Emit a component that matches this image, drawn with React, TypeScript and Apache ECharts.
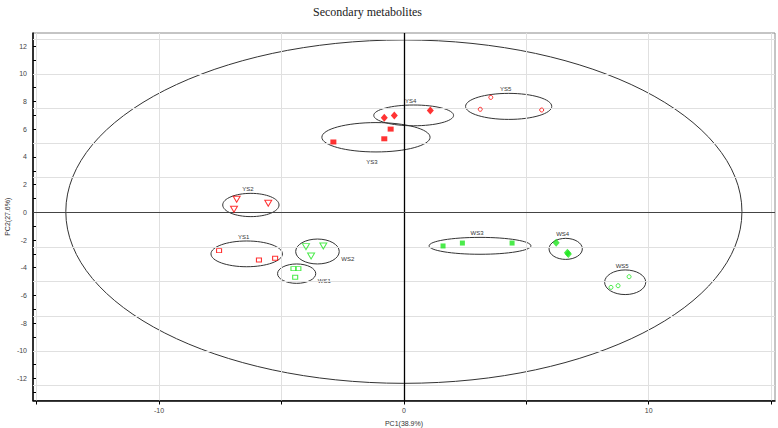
import React, { useEffect, useRef } from 'react';
import * as echarts from 'echarts';

const titleText = 'Secondary metabolites';
const xName = 'PC1(38.9%)';
const yName = 'PC2(27.6%)';

const xTicks = [-15, -10, -5, 0, 5, 10, 15];
const xLabels = [-10, 0, 10];
const yTicks = [-13, -12, -11, -10, -9, -8, -7, -6, -5, -4, -3, -2, -1, 0, 1, 2, 3, 4, 5, 6, 7, 8, 9, 10, 11, 12];
const yLabels = [-12, -10, -8, -6, -4, -2, 0, 2, 4, 6, 8, 10, 12];
const xGrid = [-15, -10, -5, 5, 10, 15];
const yGrid = [-12.5, -10, -7.5, -5, -2.5, 2.5, 5, 7.5, 10, 12.5];

// scores
const ys1 = [[-7.55, -2.77], [-5.92, -3.44], [-5.26, -3.32]];
const ys2 = [[-6.83, 0.94], [-5.54, 0.65], [-6.94, 0.22]];
const ys3 = [[-2.88, 5.08], [-0.8, 5.31], [-0.54, 6.01]];
const ys4 = [[-0.8, 6.83], [-0.39, 7.0], [1.08, 7.36]];
const ys5 = [[3.55, 8.3], [3.12, 7.44], [5.63, 7.39]];
const ws1 = [[-4.51, -4.07], [-4.31, -4.07], [-4.44, -4.69]];
const ws2 = [[-4.0, -2.48], [-3.29, -2.43], [-3.79, -3.16]];
const ws3 = [[1.6, -2.43], [2.39, -2.22], [4.42, -2.22]];
const ws4 = [[6.22, -2.19], [6.68, -2.92], [6.72, -3.01]];
const ws5 = [[9.2, -4.65], [8.75, -5.3], [8.46, -5.42]];

// ellipses: [centerX, centerY, semiX, semiY]
const ellipseNames = ['', 'YS1', 'YS2', 'YS3', 'YS4', 'YS5', 'WS1', 'WS2', 'WS3', 'WS4', 'WS5'];
const ellipseValues = [
  [0, 0.05, 13.81, 12.4],
  [-6.42, -3.0, 1.46, 0.93],
  [-6.25, 0.53, 1.15, 0.84],
  [-1.14, 5.42, 2.21, 1.06],
  [0.4, 7.0, 1.63, 0.75],
  [4.28, 7.65, 1.76, 0.94],
  [-4.38, -4.43, 0.78, 0.7],
  [-3.53, -2.83, 0.89, 0.9],
  [3.11, -2.42, 2.08, 0.61],
  [6.61, -2.64, 0.68, 0.76],
  [9.04, -5.05, 0.84, 0.89],
];
const ellipseLabelSide = ['none', 'top', 'top', 'bottom', 'top', 'top', 'right', 'right', 'top', 'top', 'top'];

const RED = '#ff0000';
const GREEN = '#1ee61e';
const FONT = 'Liberation Sans, Arial, sans-serif';

function scatter(name: string, data: number[][], color: string, symbol: string, size: any, filled: boolean, rotate = 0) {
  return {
    type: 'scatter',
    name,
    data,
    symbol,
    symbolSize: size,
    symbolRotate: rotate,
    z: 5,
    silent: true,
    itemStyle: filled
      ? { color, borderWidth: 0 }
      : { color: 'rgba(255,255,255,0)', borderColor: color, borderWidth: 1 },
  };
}

export default function App() {
  const ref = useRef<HTMLDivElement>(null);
  useEffect(() => {
    const chart = echarts.init(ref.current!, null, { renderer: 'svg' });
    const hidden = { show: false };
    const option: any = {
      animation: false,
      backgroundColor: '#ffffff',
      title: {
        text: titleText,
        left: 308,
        top: 1,
        textStyle: { fontFamily: 'Liberation Serif, Times New Roman, serif', fontSize: 12, fontWeight: 'normal', color: '#222' },
      },
      grid: {
        left: 33,
        right: 3,
        top: 33,
        bottom: 27.5,
        containLabel: false,
        outerBoundsMode: 'none',
        show: true,
        borderColor: '#8a8a8a',
        borderWidth: 1,
      },
      xAxis: {
        type: 'value',
        min: -15.15,
        max: 15.16,
        name: xName,
        nameLocation: 'middle',
        nameGap: 19,
        nameMoveOverlap: false,
        nameTextStyle: { fontFamily: FONT, fontSize: 7, color: '#333' },
        axisLine: { onZero: false, lineStyle: { color: '#000', width: 1.5 } },
        axisTick: { customValues: xTicks, length: 4, lineStyle: { color: '#000' } },
        axisLabel: { customValues: xLabels, fontFamily: FONT, fontSize: 7, color: '#444', margin: 6 },
        splitLine: hidden,
      },
      yAxis: {
        type: 'value',
        min: -13.59,
        max: 12.95,
        name: yName,
        nameLocation: 'middle',
        nameGap: 22,
        nameMoveOverlap: false,
        nameTextStyle: { fontFamily: FONT, fontSize: 7, color: '#333' },
        axisLine: { onZero: false, lineStyle: { color: '#000', width: 1.5 } },
        axisTick: { customValues: yTicks, length: 3, inside: true, lineStyle: { color: '#000' } },
        axisLabel: { customValues: yLabels, fontFamily: FONT, fontSize: 7, color: '#444', margin: 6 },
        splitLine: hidden,
      },
      series: [
        {
          type: 'scatter',
          data: [[0, 0]],
          symbolSize: 0,
          silent: true,
          z: 1,
          markLine: {
            silent: true,
            symbol: ['none', 'none'],
            label: hidden,
            lineStyle: { type: 'solid', color: '#e0e0e0', width: 1 },
            emphasis: { disabled: true },
            data: [...xGrid.map((v) => ({ xAxis: v })), ...yGrid.map((v) => ({ yAxis: v }))],
          },
        },
        {
          type: 'scatter',
          data: [[0, 0]],
          symbolSize: 0,
          silent: true,
          z: 2,
          markLine: {
            silent: true,
            symbol: ['none', 'none'],
            label: hidden,
            emphasis: { disabled: true },
            data: [
              { xAxis: 0, lineStyle: { type: 'solid', color: '#000', width: 1.3 } },
              { yAxis: 0, lineStyle: { type: 'solid', color: '#444', width: 1 } },
            ],
          },
        },
        {
          type: 'custom',
          silent: true,
          z: 3,
          data: ellipseValues,
          encode: { x: 0, y: 1 },
          renderItem: (params: any, api: any) => {
            const i = params.dataIndex;
            const c = api.coord([api.value(0), api.value(1)]);
            const s = api.size([api.value(2), api.value(3)]);
            const rx = s[0];
            const ry = s[1];
            const children: any[] = [
              {
                type: 'ellipse',
                shape: { cx: c[0], cy: c[1], rx: rx, ry: ry },
                style: { fill: 'none', stroke: '#333', lineWidth: 1 },
              },
            ];
            const side = ellipseLabelSide[i];
            const name = ellipseNames[i];
            if (name) {
              let x = c[0] - 3;
              let y = c[1] - ry - 4;
              let align = 'center';
              if (side === 'bottom') {
                x = c[0] - 4;
                y = c[1] + ry + 10;
              } else if (side === 'right') {
                x = c[0] + rx + 2;
                y = c[1] + 7;
                align = 'left';
              }
              children.push({
                type: 'text',
                x,
                y,
                style: {
                  text: name,
                  fill: '#333',
                  fontSize: 6,
                  fontFamily: FONT,
                  align,
                  verticalAlign: 'middle',
                },
              });
            }
            return { type: 'group', children };
          },
        },
        scatter('YS1', ys1, RED, 'rect', [5, 4], false),
        scatter('YS2', ys2, RED, 'triangle', [7, 6], false, 180),
        scatter('YS3', ys3, RED, 'rect', [6, 5], true),
        scatter('YS4', ys4, RED, 'diamond', [7, 8], true),
        scatter('YS5', ys5, RED, 'circle', 4, false),
        scatter('WS1', ws1, GREEN, 'rect', [5, 4], false),
        scatter('WS2', ws2, GREEN, 'triangle', [7, 6], false, 180),
        scatter('WS3', ws3, GREEN, 'rect', [5, 5], true),
        scatter('WS4', ws4, GREEN, 'diamond', [7, 8], true),
        scatter('WS5', ws5, GREEN, 'circle', 4, false),
      ],
    };
    chart.setOption(option);
    return () => chart.dispose();
  }, []);
  return (
    <div
      ref={ref}
      style={{ position: 'fixed', left: 0, top: 0, width: 778, height: 428, background: '#fff' }}
    />
  );
}
